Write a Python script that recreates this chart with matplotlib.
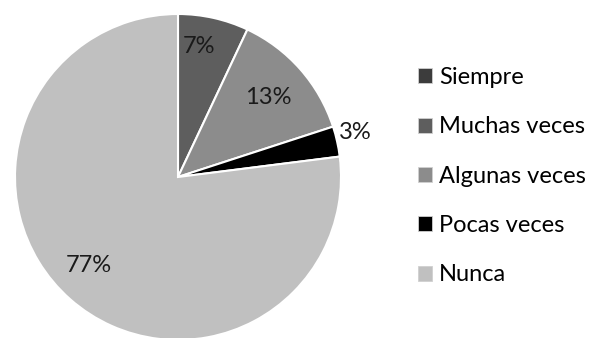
import matplotlib.pyplot as plt
import numpy as np

categorias = ['Siempre', 'Muchas veces', 'Algunas veces', 'Pocas veces', 'Nunca']
porcentajes = [0, 7, 13, 3, 77]
colores = ['#3c3c3c', '#5e5e5e', '#8c8c8c', '#000000', '#c0c0c0']

# posiciones de las etiquetas (distancia relativa, ángulo en grados)
pos_etiquetas = {1: (0.81, 81), 2: (0.74, 41.5), 3: (1.12, 14), 4: (0.77, 225)}

plt.rcParams['font.family'] = ['Lato', 'DejaVu Sans']

fig = plt.figure(figsize=(5.94, 3.38), dpi=100)
ax = fig.add_axes([15 / 594, -2 / 338, 326 / 594, 326 / 338])

wedges, _ = ax.pie(porcentajes, colors=colores, startangle=90, counterclock=False,
                   wedgeprops={'edgecolor': 'white', 'linewidth': 1.5})
ax.set_xlim(-1, 1)
ax.set_ylim(-1, 1)
ax.set_aspect('equal')
ax.axis('off')

for i, (r, ang) in pos_etiquetas.items():
    a = np.deg2rad(ang)
    ax.text(r * np.cos(a), r * np.sin(a), f'{porcentajes[i]}%', ha='center', va='center',
            fontsize=17, color='#1a1a1a')

handles = [plt.Rectangle((0, 0), 1, 1, facecolor=c, edgecolor='#d0d0d0', linewidth=0.6) for c in colores]
fig.legend(handles, categorias, loc='upper left', bbox_to_anchor=(418 / 594, 1 - 67 / 338),
           frameon=False, fontsize=17, handlelength=0.6, handleheight=0.6,
           handletextpad=0.3, labelspacing=1.2, borderaxespad=0, borderpad=0)

fig.savefig('out.png', dpi=100)
